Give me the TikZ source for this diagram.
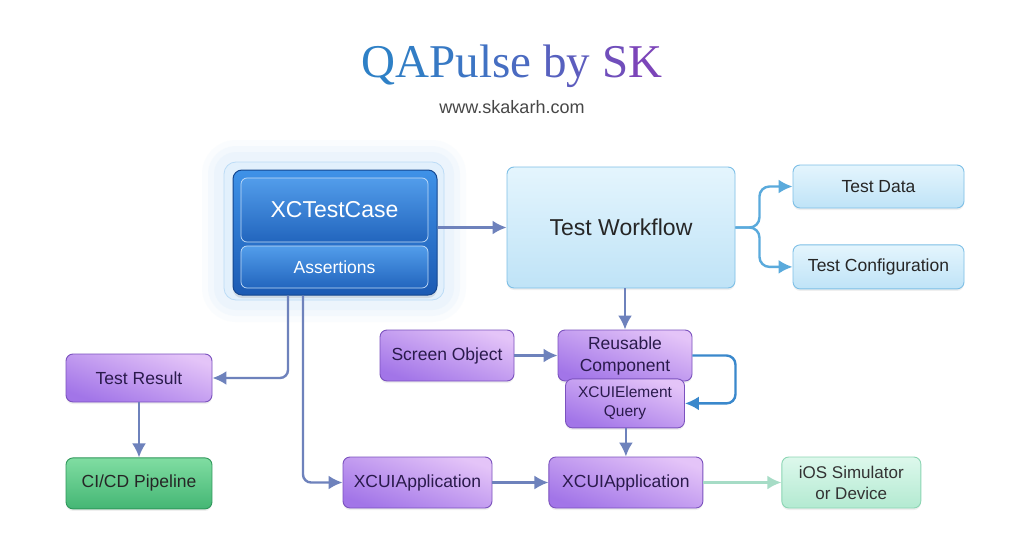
\documentclass[tikz,border=0pt]{standalone}
\usepackage{fontspec}
\setmainfont{Liberation Sans}
\newfontfamily\titlefont{Liberation Serif}
\usepackage{xcolor}
\usetikzlibrary{arrows.meta, positioning, shadows}

\definecolor{tblue}{HTML}{2E80C6}
\definecolor{tpurple}{HTML}{8340B8}
\definecolor{linec}{HTML}{6E82BC}
\definecolor{branchc}{HTML}{5AAADC}
\definecolor{loopc}{HTML}{3A88CC}
\definecolor{devc}{HTML}{A6DCC6}
\definecolor{skyt}{HTML}{E4F5FD}
\definecolor{skyd}{HTML}{BFE3F7}
\definecolor{skyb}{HTML}{7DBFE6}
\definecolor{lilt}{HTML}{E4C4F8}
\definecolor{lild}{HTML}{A275E8}
\definecolor{lilb}{HTML}{7B52BE}
\definecolor{lilx}{HTML}{2A1A4C}
\definecolor{mintt}{HTML}{80DDA2}
\definecolor{mintd}{HTML}{44B674}
\definecolor{mintb}{HTML}{2E975A}
\definecolor{palet}{HTML}{DDF8EC}
\definecolor{paled}{HTML}{B3EAD1}
\definecolor{paleb}{HTML}{8BD5B3}
\definecolor{deept}{HTML}{3F92E8}
\definecolor{deepd}{HTML}{1B5AB3}
\definecolor{deepb}{HTML}{154790}
\definecolor{glowl}{HTML}{E2F0FC}
\definecolor{glowb}{HTML}{BCDCF6}

\newcommand\titlechar[2]{\textcolor{tblue!#1!tpurple}{#2}}

\begin{document}
\begin{tikzpicture}[x=1pt, y=-1pt,
    box/.style={draw, rounded corners=7pt, line width=0.9pt, inner sep=0pt,
                align=center, font=\fontsize{17.5}{22}\selectfont,
                drop shadow={opacity=0.12, shadow xshift=0pt, shadow yshift=-2pt}},
    sky/.style={box, draw=skyb, top color=skyt, bottom color=skyd, text=black!85},
    lilac/.style={box, draw=lilb, top color=lilt, bottom color=lild, shading angle=-20, text=lilx},
    mint/.style={box, draw=mintb, top color=mintt, bottom color=mintd, text=black!85},
    pale/.style={box, draw=paleb, top color=palet, bottom color=paled, text=black!80},
    panel/.style={draw=white!70!deept, line width=0.7pt, rounded corners=6pt, inner sep=0pt,
                  top color=deept!90!white, bottom color=deepd!80!deept, text=white},
    arr/.style={draw=linec, line width=2.4pt, -{Latex[length=14pt, width=14pt]}},
    barr/.style={arr, draw=branchc, rounded corners=10pt},
    larr/.style={arr, draw=loopc, rounded corners=9pt},
    darr/.style={arr, draw=devc}
  ]
  \useasboundingbox (0,0) rectangle (1024,559);
  \fill[white] (0,0) rectangle (1024,559);

  \node[font=\titlefont\fontsize{47}{52}\selectfont] (title) at (512,66)
    {\titlechar{100}{Q}\titlechar{95}{A}\titlechar{89}{P}\titlechar{83}{u}\titlechar{78}{l}\titlechar{72}{s}\titlechar{66}{e}
     \titlechar{52}{b}\titlechar{45}{y} \titlechar{22}{S}\titlechar{8}{K}};
  \node[font=\fontsize{18}{20}\selectfont, text=black!72] (url) at (512,107) {www.skakarh.com};

  \foreach \g/\o in {22/0.15, 16/0.25, 10/0.4}
    \fill[glowl, opacity=\o, rounded corners=12pt+\g pt] (224-\g,162-\g) rectangle (444+\g,300+\g);
  \node[draw=glowb, fill=glowl, rounded corners=12pt, line width=0.8pt,
        minimum width=220pt, minimum height=138pt] (halo) at (334,231) {};
  \node[draw=deepb, line width=1pt, rounded corners=9pt, top color=deept, bottom color=deepd,
        minimum width=204pt, minimum height=125pt,
        drop shadow={opacity=0.2, shadow xshift=0pt, shadow yshift=-3pt}] (tcase) at (335,232.5) {};
  \node[panel, minimum width=187pt, minimum height=64pt, font=\fontsize{23}{26}\selectfont] (xctc) at (334.5,210) {XCTestCase};
  \node[panel, minimum width=187pt, minimum height=42pt, font=\fontsize{17.5}{20}\selectfont] (assert) at (334.5,267) {Assertions};

  \node[sky, minimum width=228pt, minimum height=121pt, font=\fontsize{23}{26}\selectfont] (flow) at (621,227.5) {Test Workflow};
  \node[sky, minimum width=171pt, minimum height=43pt] (tdata) at (878.5,186.5) {Test Data};
  \node[sky, minimum width=171pt, minimum height=44pt, below=36pt of tdata] (tconf) {Test Configuration};

  \node[lilac, minimum width=134pt, minimum height=51pt] (screen) at (447,355.5) {Screen Object};
  \node[lilac, minimum width=134pt, minimum height=51pt] (reuse) at (625,355.5) {Reusable\\Component};
  \node[lilac, minimum width=119pt, minimum height=49pt, below=-3pt of reuse,
        font=\fontsize{15.5}{19}\selectfont] (query) {XCUIElement\\Query};

  \node[lilac, minimum width=149pt, minimum height=51pt] (app1) at (417.5,482.5) {XCUIApplication};
  \node[lilac, minimum width=154pt, minimum height=51pt, right=56pt of app1] (app2) {XCUIApplication};
  \node[pale, minimum width=139pt, minimum height=51pt, right=78pt of app2,
        font=\fontsize{17}{21}\selectfont] (device) {iOS Simulator\\or Device};

  \node[lilac, minimum width=146pt, minimum height=48pt] (result) at (139,378) {Test Result};
  \node[mint, minimum width=146pt, minimum height=51pt, below=55pt of result] (cicd) {CI/CD Pipeline};

  \draw[arr] (tcase.east |- flow.west) -- (flow.west);
  \draw[barr] (flow.east) -- ++(24,0) |- (tdata.west);
  \draw[barr] (flow.east) -- ++(24,0) |- (tconf.west);
  \draw[arr] (flow.south -| reuse.north) -- (reuse.north);
  \draw[arr] (screen) -- (reuse);
  \draw[larr] (reuse.east) -- ++(43,0) |- (query.east);
  \draw[arr] (query.south -| app2.north) -- (app2.north);
  \draw[arr] (app1) -- (app2);
  \draw[darr] (app2) -- (device);
  \draw[arr, rounded corners=8pt] ([xshift=-47pt]tcase.south) |- (result.east);
  \draw[arr, rounded corners=8pt] ([xshift=-32pt]tcase.south) |- (app1.west);
  \draw[arr] (result) -- (cicd);
\end{tikzpicture}
\end{document}
